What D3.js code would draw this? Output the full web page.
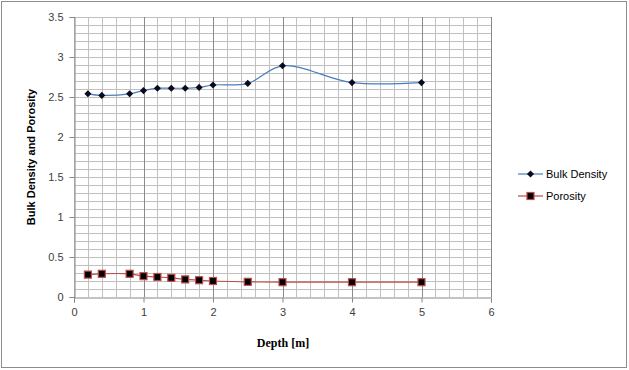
<!DOCTYPE html>
<html>
<head>
<meta charset="utf-8">
<script src="https://cdn.jsdelivr.net/npm/d3@7"></script>
<style>
  body { margin: 0; background: #fff; }
  svg { display: block; }
</style>
</head>
<body>
<div id="chart"></div>
<script>
var width = 629, height = 370;
var margin = { top: 17, right: 138, bottom: 73, left: 74 };

// depth values (m)
var depth = [0.2, 0.4, 0.8, 1.0, 1.2, 1.4, 1.6, 1.8, 2.0, 2.5, 3, 4, 5];
var bulkDensity = [2.54, 2.52, 2.54, 2.58, 2.61, 2.61, 2.61, 2.62, 2.65, 2.67, 2.89, 2.68, 2.68];
var porosity = [0.28, 0.29, 0.29, 0.26, 0.25, 0.24, 0.22, 0.21, 0.2, 0.19, 0.185, 0.185, 0.185];

var xTicks = [0, 1, 2, 3, 4, 5, 6];
var yTicks = [0, 0.5, 1, 1.5, 2, 2.5, 3, 3.5];
var seriesNames = ["Bulk Density", "Porosity"];

var svg = d3.select("#chart").append("svg")
    .attr("width", width)
    .attr("height", height);

// outer chart border
svg.append("rect")
    .attr("x", 1.5).attr("y", 1.5)
    .attr("width", width - 4).attr("height", height - 4)
    .attr("fill", "#fff")
    .attr("stroke", "#8c8c8c");

var x = d3.scaleLinear().domain([0, 6]).range([margin.left, width - margin.right]);
var y = d3.scaleLinear().domain([0, 3.5]).range([height - margin.bottom, margin.top]);

var g = svg.append("g");

// minor grid
g.selectAll(".vminor").data(d3.range(0, 30.5, 1).map(d => d / 5))
    .enter().append("line")
    .attr("x1", d => Math.round(x(d)) + 0.5).attr("x2", d => Math.round(x(d)) + 0.5)
    .attr("y1", y(0)).attr("y2", y(3.5))
    .attr("stroke", "#c0c0c0");

g.selectAll(".hminor").data(d3.range(1, 35.5, 1).map(d => d / 10))
    .enter().append("line")
    .attr("x1", x(0)).attr("x2", x(6))
    .attr("y1", d => Math.round(y(d)) + 0.5).attr("y2", d => Math.round(y(d)) + 0.5)
    .attr("stroke", "#c0c0c0");

// major vertical grid
g.selectAll(".vmajor").data(xTicks.slice(1))
    .enter().append("line")
    .attr("x1", d => Math.round(x(d)) + 0.5).attr("x2", d => Math.round(x(d)) + 0.5)
    .attr("y1", y(0)).attr("y2", y(3.5))
    .attr("stroke", "#8a8a8a");

// axes
var xAxis = d3.axisBottom(x).tickValues(xTicks).tickSize(5).tickPadding(6).tickFormat(d3.format("d"));
var yAxis = d3.axisLeft(y).tickValues(yTicks).tickSize(5).tickPadding(6).tickFormat(d => d);

var gx = svg.append("g").attr("transform", "translate(0," + (Math.round(y(0)) + 0.5) + ")").call(xAxis);
var gy = svg.append("g").attr("transform", "translate(" + (Math.round(x(0)) + 0.5) + ",0)").call(yAxis);

[gx, gy].forEach(function (a) {
    a.select(".domain").attr("stroke", "#868686");
    a.selectAll(".tick line").attr("stroke", "#868686");
    a.selectAll(".tick text")
        .attr("fill", "#404040")
        .style("font-family", "'Liberation Sans', Arial, sans-serif")
        .style("font-size", "11px");
});

// lines
var line = d3.line().curve(d3.curveCatmullRom.alpha(0.5));

var bulkPts = depth.map((d, i) => [x(d), y(bulkDensity[i])]);
var porPts = depth.map((d, i) => [x(d), y(porosity[i])]);

svg.append("path").attr("d", line(bulkPts))
    .attr("fill", "none").attr("stroke", "#4a7ebb").attr("stroke-width", 1.2);
svg.append("path").attr("d", line(porPts))
    .attr("fill", "none").attr("stroke", "#be4b48").attr("stroke-width", 1.2);

// markers
var diamond = d3.symbol().type(d3.symbolDiamond2).size(32);
svg.selectAll(".bd").data(bulkPts).enter().append("path")
    .attr("d", diamond)
    .attr("transform", d => "translate(" + d[0] + "," + d[1] + ")")
    .attr("fill", "#0a0a1e");

svg.selectAll(".po").data(porPts).enter().append("rect")
    .attr("x", d => d[0] - 3.5).attr("y", d => d[1] - 3.5)
    .attr("width", 7).attr("height", 7)
    .attr("fill", "#000")
    .attr("stroke", "#be4b48").attr("stroke-width", 1.2);

// axis titles
svg.append("text")
    .attr("x", 283).attr("y", 347)
    .attr("text-anchor", "middle")
    .style("font-family", "'Liberation Serif', 'Times New Roman', serif")
    .style("font-weight", "bold")
    .style("font-size", "12px")
    .attr("fill", "#000")
    .text("Depth [m]");

svg.append("text")
    .attr("transform", "translate(35,157) rotate(-90)")
    .attr("text-anchor", "middle")
    .style("font-family", "'Liberation Sans', Arial, sans-serif")
    .style("font-weight", "bold")
    .style("font-size", "11px")
    .attr("fill", "#000")
    .text("Bulk Density and Porosity");

// legend
var legend = svg.append("g").attr("transform", "translate(518,174)");
var colors = ["#4a7ebb", "#be4b48"];
seriesNames.forEach(function (name, i) {
    var row = legend.append("g").attr("transform", "translate(0," + (i * 22) + ")");
    row.append("line").attr("x1", 0).attr("x2", 25).attr("y1", 0).attr("y2", 0)
        .attr("stroke", colors[i]).attr("stroke-width", 1.2);
    if (i === 0) {
        row.append("path").attr("d", diamond).attr("transform", "translate(12.5,0)").attr("fill", "#0a0a1e");
    } else {
        row.append("rect").attr("x", 9).attr("y", -3.5).attr("width", 7).attr("height", 7)
            .attr("fill", "#000").attr("stroke", colors[i]).attr("stroke-width", 1.2);
    }
    row.append("text").attr("x", 28).attr("y", 4)
        .style("font-family", "'Liberation Sans', Arial, sans-serif")
        .style("font-size", "11px")
        .attr("fill", "#000")
        .text(name);
});
</script>
</body>
</html>
